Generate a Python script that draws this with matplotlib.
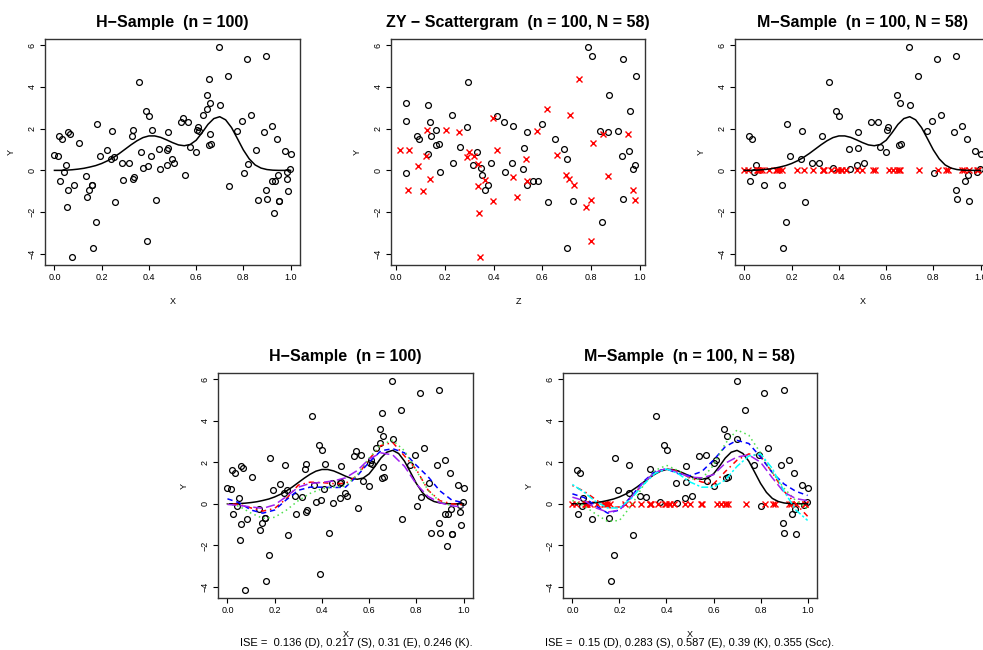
#!/usr/bin/env python

import numpy as np
import matplotlib
matplotlib.use("Agg")
import matplotlib.pyplot as plt

plt.rcParams["font.family"] = ["Liberation Sans", "DejaVu Sans"]

# simulated sample
x_vals = [0.000, 0.014, 0.020, 0.023, 0.034, 0.042, 0.047, 0.054, 0.056, 0.059,
          0.064, 0.075, 0.083, 0.106, 0.133, 0.138, 0.145, 0.157, 0.160, 0.165,
          0.175, 0.181, 0.192, 0.223, 0.239, 0.242, 0.254, 0.258, 0.288, 0.290,
          0.314, 0.329, 0.331, 0.332, 0.336, 0.356, 0.366, 0.374, 0.388, 0.393,
          0.397, 0.401, 0.410, 0.415, 0.432, 0.442, 0.446, 0.477, 0.477, 0.482,
          0.482, 0.499, 0.507, 0.537, 0.545, 0.551, 0.566, 0.573, 0.600, 0.602,
          0.609, 0.613, 0.631, 0.644, 0.648, 0.654, 0.655, 0.657, 0.660, 0.661,
          0.698, 0.701, 0.733, 0.739, 0.773, 0.795, 0.801, 0.814, 0.819, 0.832,
          0.853, 0.862, 0.886, 0.895, 0.898, 0.901, 0.921, 0.921, 0.929, 0.934,
          0.942, 0.946, 0.951, 0.952, 0.977, 0.984, 0.987, 0.990, 0.997, 1.000]

y_vals = [0.74, 0.69, 1.63, -0.50, 1.49, -0.10, 0.26, -1.73, -0.96, 1.82,
          1.73, -4.13, -0.72, 1.30, -0.27, -1.28, -0.94, -0.69, -0.69, -3.71,
          -2.48, 2.22, 0.67, 0.96, 0.53, 1.87, 0.66, -1.50, 0.37, -0.48,
          0.35, 1.66, 1.92, -0.40, -0.30, 4.22, 0.90, 0.10, 2.85, -3.39,
          0.19, 2.58, 0.70, 1.92, -1.42, 1.02, 0.06, 0.26, 0.98, 1.06,
          1.82, 0.54, 0.37, 2.32, 2.53, -0.22, 2.34, 1.10, 0.86, 1.95,
          2.10, 1.90, 2.66, 3.60, 2.94, 4.38, 1.23, 3.25, 1.76, 1.28,
          5.89, 3.14, 4.53, -0.75, 1.89, 2.37, -0.11, 5.33, 0.32, 2.67,
          0.98, -1.42, 1.86, -0.93, 5.46, -1.39, 2.13, -0.51, -2.03, -0.51,
          1.50, -0.24, -1.46, -1.47, 0.91, -0.06, -0.40, -1.01, 0.08, 0.78]

z_vals = [0.659, 0.319, 0.144, 0.561, 0.652, 0.446, 0.316, 0.778, 0.970, 0.260,
          0.950, 0.346, 0.379, 0.809, 0.869, 0.497, 0.050, 0.538, 0.728, 0.699,
          0.845, 0.598, 0.928, 0.054, 0.700, 0.838, 0.290, 0.621, 0.475, 0.365,
          0.390, 0.087, 0.127, 0.138, 0.480, 0.297, 0.301, 0.350, 0.958, 0.801,
          0.089, 0.414, 0.124, 0.206, 0.798, 0.689, 0.520, 0.981, 0.413, 0.524,
          0.868, 0.533, 0.233, 0.443, 0.398, 0.695, 0.138, 0.262, 0.331, 0.163,
          0.290, 0.578, 0.713, 0.872, 0.620, 0.752, 0.162, 0.040, 0.847, 0.176,
          0.787, 0.131, 0.982, 0.337, 0.911, 0.042, 0.041, 0.931, 0.334, 0.228,
          0.018, 0.978, 0.538, 0.364, 0.805, 0.932, 0.480, 0.537, 0.341, 0.583,
          0.094, 0.351, 0.725, 0.399, 0.956, 0.180, 0.708, 0.109, 0.970, 0.132]

# 1 = response missing in the M-sample
missing = [1, 1, 0, 0, 0, 0, 0, 1, 1, 1,
           1, 1, 0, 1, 1, 1, 1, 0, 1, 0,
           0, 0, 0, 1, 0, 0, 1, 0, 0, 1,
           0, 0, 1, 1, 1, 0, 1, 0, 0, 1,
           1, 0, 1, 1, 1, 0, 0, 0, 1, 0,
           0, 1, 0, 0, 1, 1, 0, 0, 0, 0,
           0, 1, 1, 0, 1, 1, 0, 0, 1, 0,
           0, 0, 0, 1, 0, 0, 0, 0, 1, 0,
           1, 1, 0, 0, 0, 0, 0, 1, 1, 0,
           0, 0, 0, 1, 0, 0, 1, 1, 0, 0]

# true regression function
true_grid = [0.000, 0.025, 0.050, 0.075, 0.100, 0.125, 0.150, 0.175, 0.200, 0.225,
             0.250, 0.275, 0.300, 0.325, 0.350, 0.375, 0.400, 0.425, 0.450, 0.475,
             0.500, 0.525, 0.550, 0.575, 0.600, 0.625, 0.650, 0.675, 0.700, 0.725,
             0.750, 0.775, 0.800, 0.825, 0.850, 0.875, 0.900, 0.925, 0.950, 0.975,
             1.000]
true_f = [0.00, 0.00, 0.01, 0.03, 0.06, 0.10, 0.16, 0.23, 0.33, 0.46,
          0.62, 0.81, 1.02, 1.23, 1.42, 1.57, 1.65, 1.65, 1.58, 1.46,
          1.33, 1.22, 1.18, 1.24, 1.44, 1.80, 2.20, 2.48, 2.57, 2.42,
          2.05, 1.52, 0.98, 0.55, 0.26, 0.11, 0.04, 0.01, 0.00, 0.00,
          0.00]

# estimates
est_grid = [0.00, 0.05, 0.10, 0.15, 0.20, 0.25, 0.30, 0.35, 0.40, 0.45,
            0.50, 0.55, 0.60, 0.65, 0.70, 0.75, 0.80, 0.85, 0.90, 0.95, 1.00]

h_D = [0.00, -0.03, -0.20, -0.35, -0.22, 0.25, 0.90, 1.04, 1.02, 0.97,
       0.98, 1.35, 2.15, 2.80, 2.95, 2.30, 1.65, 0.65, 0.15, 0.00, -0.05]
h_S = [0.24, 0.05, -0.30, -0.45, -0.30, 0.20, 0.65, 0.80, 0.80, 0.78,
       0.80, 1.35, 2.00, 2.55, 2.65, 2.45, 1.85, 1.30, 0.62, 0.18, 0.05]
h_E = [0.00, -0.12, -0.45, -0.70, -0.65, -0.30, 0.15, 0.50, 0.72, 0.80,
       0.85, 1.40, 2.20, 2.85, 3.05, 2.55, 1.60, 0.65, 0.10, -0.10, -0.15]
h_K = [-0.03, -0.08, -0.15, -0.22, -0.05, 0.35, 0.80, 0.98, 1.03, 1.10,
       1.25, 1.60, 2.15, 2.45, 2.35, 1.80, 0.95, 0.35, 0.05, -0.10, -0.15]

m_D = [0.88, 0.60, 0.20, -0.20, -0.15, 0.30, 0.95, 1.50, 1.70, 1.55,
       1.25, 1.05, 0.95, 1.55, 2.10, 2.40, 2.30, 1.50, 0.60, 0.00, -0.60]
m_S = [0.48, 0.30, -0.10, -0.45, -0.30, 0.35, 1.05, 1.55, 1.68, 1.45,
       1.35, 1.55, 2.10, 2.75, 3.05, 2.90, 2.25, 1.50, 0.95, 0.60, 0.40]
m_E = [0.16, -0.10, -0.50, -0.85, -0.80, -0.10, 0.85, 1.60, 1.85, 1.60,
       1.20, 1.20, 1.85, 2.90, 3.55, 3.30, 2.45, 1.50, 0.75, 0.15, -0.25]
m_K = [0.32, 0.15, -0.20, -0.40, -0.30, 0.30, 1.00, 1.50, 1.70, 1.50,
       1.28, 1.25, 1.40, 1.95, 2.25, 2.35, 2.00, 1.25, 0.55, 0.25, 0.15]
m_Scc = [0.93, 0.55, 0.10, -0.20, -0.20, 0.25, 0.90, 1.45, 1.68, 1.45,
         1.05, 0.80, 0.80, 1.15, 1.80, 2.30, 2.40, 1.70, 0.60, -0.30, -0.80]

ise_h = "ISE =  0.136 (D), 0.217 (S), 0.31 (E), 0.246 (K)."
ise_m = "ISE =  0.15 (D), 0.283 (S), 0.587 (E), 0.39 (K), 0.355 (Scc)."

W, H = 983, 650
TICK_FS = 6.5
TITLE_FS = 11.5

# line styles for the estimators
styles = {
    "D": dict(color="red", ls=(0, (1, 2.5, 3.5, 2.5))),
    "S": dict(color="blue", ls=(0, (3.5, 2.5))),
    "E": dict(color="#4ee04e", ls=(0, (1, 2.2))),
    "K": dict(color="#a020f0", ls=(0, (6, 2.5))),
    "Scc": dict(color="cyan", ls=(0, (1.5, 1.5, 4.5, 1.5))),
}


def rlim(vals):
    lo, hi = min(vals), max(vals)
    pad = 0.04 * (hi - lo)
    return lo - pad, hi + pad


def panel(fig, left, right, top, bottom, title, xlab, xlim, ylim):
    ax = fig.add_axes([left / W, 1 - bottom / H, (right - left) / W, (bottom - top) / H])
    ax.set_xlim(*xlim)
    ax.set_ylim(*ylim)
    ax.set_xticks([0.0, 0.2, 0.4, 0.6, 0.8, 1.0])
    ax.set_xticklabels(["0.0", "0.2", "0.4", "0.6", "0.8", "1.0"])
    ax.set_yticks([-4, -2, 0, 2, 4, 6])
    ax.set_yticklabels(["\u22124", "\u22122", "0", "2", "4", "6"], rotation=90, va="center")
    ax.tick_params(length=3.5, width=0.8, pad=2.5, labelsize=TICK_FS, colors="black")
    for sp in ax.spines.values():
        sp.set_linewidth(1.0)
        sp.set_color("#333333")
    ax.set_xlabel(xlab, fontsize=TICK_FS)
    ax.set_ylabel("Y", fontsize=TICK_FS)
    ax.xaxis.set_label_coords(0.5, -32 / (bottom - top))
    ax.yaxis.set_label_coords(-29 / (right - left), 0.5)
    fig.text((left + right) / 2 / W, 1 - 22 / H if top < 100 else 1 - 356 / H, title,
             ha="center", va="center", fontsize=TITLE_FS, fontweight="bold")
    return ax


def circles(ax, xs, ys):
    ax.plot(xs, ys, ls="none", marker="o", ms=4.2, mfc="none", mec="black", mew=0.9)


def crosses(ax, xs, ys):
    ax.plot(xs, ys, ls="none", marker="x", ms=3.8, color="red", mew=1.0)


def main():
    X = np.array(x_vals)
    Y = np.array(y_vals)
    Z = np.array(z_vals)
    miss = np.array(missing) == 1
    obs = ~miss

    xlim = rlim(x_vals)
    ylim = rlim(y_vals)
    zlim = rlim(z_vals)

    fig = plt.figure(figsize=(W / 100, H / 100), dpi=100)

    # top row
    ax1 = panel(fig, 45, 300, 39, 265, "H\u2212Sample  (n = 100)", "X", xlim, ylim)
    circles(ax1, X, Y)
    ax1.plot(true_grid, true_f, color="black", lw=1.1)

    ax2 = panel(fig, 391, 645, 39, 265, "ZY \u2212 Scattergram  (n = 100, N = 58)", "Z", zlim, ylim)
    circles(ax2, Z[obs], Y[obs])
    crosses(ax2, Z[miss], Y[miss])

    ax3 = panel(fig, 735, 990, 39, 265, "M\u2212Sample  (n = 100, N = 58)", "X", xlim, ylim)
    circles(ax3, X[obs], Y[obs])
    crosses(ax3, X[miss], np.zeros(miss.sum()))
    ax3.plot(true_grid, true_f, color="black", lw=1.1)

    # bottom row
    ax4 = panel(fig, 218, 473, 373, 598, "H\u2212Sample  (n = 100)", "X", xlim, ylim)
    circles(ax4, X, Y)
    ax4.plot(true_grid, true_f, color="black", lw=1.1)
    for key, est in [("D", h_D), ("S", h_S), ("E", h_E), ("K", h_K)]:
        ax4.plot(est_grid, est, lw=1.1, **styles[key])
    fig.text(356 / W, 1 - 643 / H, ise_h, ha="center", va="center", fontsize=8.0)

    ax5 = panel(fig, 563, 817, 373, 598, "M\u2212Sample  (n = 100, N = 58)", "X", xlim, ylim)
    circles(ax5, X[obs], Y[obs])
    crosses(ax5, X[miss], np.zeros(miss.sum()))
    ax5.plot(true_grid, true_f, color="black", lw=1.1)
    for key, est in [("D", m_D), ("S", m_S), ("E", m_E), ("K", m_K), ("Scc", m_Scc)]:
        ax5.plot(est_grid, est, lw=1.1, **styles[key])
    fig.text(690 / W, 1 - 643 / H, ise_m, ha="center", va="center", fontsize=8.0)

    fig.savefig("out.png", dpi=100)


if __name__ == "__main__":
    main()
